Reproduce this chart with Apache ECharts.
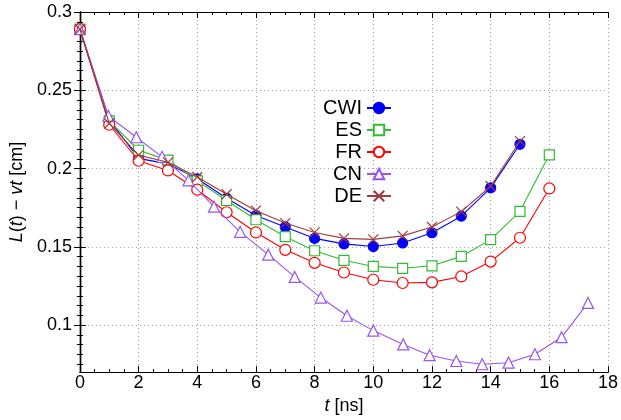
<!DOCTYPE html>
<html><head><meta charset="utf-8">
<script src="https://cdn.jsdelivr.net/npm/echarts@6/dist/echarts.min.js"></script>
<style>html,body{margin:0;padding:0;background:#fff}#c{width:621px;height:420px}</style>
</head><body><div id="c"></div>
<script>
// ---- data ----
const cwiT = [0,1,2,3,4,5,6,7,8,9,10,11,12,13,14,15];
const cwiV = [0.289,0.231,0.2065,0.203,0.1935,0.181,0.170,0.1627,0.1554,0.1519,0.1502,0.1525,0.159,0.1696,0.1877,0.2155];
const esT = [0,1,2,3,4,5,6,7,8,9,10,11,12,13,14,15,16];
const esV = [0.289,0.2304,0.2117,0.2054,0.1922,0.1796,0.1673,0.1565,0.1475,0.1414,0.1375,0.1363,0.1379,0.1439,0.1546,0.1727,0.2088];
const frT = [0,1,2,3,4,5,6,7,8,9,10,11,12,13,14,15,16];
const frV = [0.289,0.228,0.205,0.1988,0.1865,0.1721,0.1592,0.1481,0.1398,0.1336,0.1290,0.1269,0.1273,0.1311,0.1406,0.1558,0.1873];
const cnT = [0,0.97,1.92,2.8,3.7,4.57,5.46,6.42,7.32,8.21,9.1,10.0,11.02,11.92,12.83,13.71,14.61,15.51,16.42,17.32];
const cnV = [0.289,0.2336,0.220,0.2075,0.1925,0.1757,0.1596,0.145,0.1308,0.1176,0.106,0.0965,0.0877,0.0808,0.0771,0.075,0.076,0.0814,0.0923,0.1142];
const deT = [0,1,2,3,4,5,6,7,8,9,10,11,12,13,14,15];
const deV = [0.289,0.2288,0.2086,0.204,0.1946,0.1836,0.1731,0.1652,0.1592,0.1554,0.1548,0.157,0.1627,0.1725,0.1887,0.2175];
const seriesNames = ['CWI','ES','FR','CN','DE'];
const xTicks = [0,2,4,6,8,10,12,14,16,18];
const yTicks = [0.1,0.15,0.2,0.25,0.3];
const yLabels = ['0.1','0.15','0.2','0.25','0.3'];

// ---- chart ----
const FONT = 'Liberation Sans, Arial, Helvetica, sans-serif';
const zip = (a,b) => a.map((x,i)=>[x,b[i]]);
const yMinor = [];
for (let i = 0; i < yTicks.length; i++) {
  for (let k = 1; k < 8; k++) {
    const v = +(yTicks[i] - k*0.00625).toFixed(6);
    if (v > 0.07 && (i === 0 || v > yTicks[i-1])) yMinor.push(v);
  }
}
const xMinor = [];
for (let i = 0; i < xTicks.length - 1; i++) {
  for (let k = 1; k < 4; k++) xMinor.push(xTicks[i] + k*0.5);
}
const chart = echarts.init(document.getElementById('c'), null, {renderer:'canvas'});
const axisLineStyle = {color:'#000', width:1.2};
const grid = {left:79, right:11, top:12, bottom:41};
const cross = 'path://M0,0L10,10M10,0L0,10';
function mk(name, t, v, color, symbol, size, filled, z) {
  return {
    name, type:'line', xAxisIndex:0, yAxisIndex:0, data: zip(t,v),
    symbol, symbolSize:size, z,
    lineStyle:{color, width:1.1},
    itemStyle:{color: filled ? color : (symbol===cross ? 'rgba(0,0,0,0)' : '#fff'), borderColor:color, borderWidth:1.2},
    emphasis:{disabled:true}
  };
}
const series = [
  mk('CWI', cwiT, cwiV, '#0000ff', 'circle', 10, true, 2),
  mk('ES', esT, esV, '#33bb33', 'rect', 10, false, 3),
  mk('FR', frT, frV, '#ff0000', 'circle', 11, false, 4),
  mk('CN', cnT, cnV, '#9955ee', 'triangle', 11, false, 5),
  mk('DE', deT, deV, '#a03c3c', cross, 10, false, 6)
];
const baseX = {type:'value', min:0, max:18, interval:2};
const baseY = {type:'value', min:0.07, max:0.3};
function tickAxis(base, pos, vals, len) {
  return Object.assign({}, base, {position:pos,
    axisLine:{show:true, lineStyle:axisLineStyle},
    axisTick:{show:true, inside:true, length:len, lineStyle:{color:'#000', width:1}, customValues: vals},
    axisLabel:{show:false}, splitLine:{show:false}
  });
}
chart.setOption({
  animation:false,
  backgroundColor:'#fff',
  grid,
  legend:{
    orient:'vertical', left:312, top:93, align:'right',
    itemWidth:24, itemHeight:13, itemGap:2,
    data: seriesNames,
    textStyle:{fontFamily:FONT, fontSize:20, lineHeight:20, color:'#000', width:45, align:'right'}
  },
  xAxis:[
    Object.assign({}, baseX, {position:'bottom',
      name:'{i|t} [ns]', nameLocation:'middle', nameGap:17,
      nameTextStyle:{fontFamily:FONT, fontSize:18, color:'#000', rich:{i:{fontFamily:FONT, fontSize:18, fontStyle:'italic', color:'#000'}}},
      axisLine:{show:true, lineStyle:axisLineStyle},
      axisTick:{show:true, inside:true, length:6, lineStyle:{color:'#000', width:1}, customValues: xTicks},
      axisLabel:{fontFamily:FONT, fontSize:18, color:'#000', margin:2, customValues: xTicks},
      splitLine:{show:true, lineStyle:{color:'#a0a0a0', type:[1,3], width:1}}
    }),
    tickAxis(baseX, 'top', xTicks, 6),
    tickAxis(baseX, 'bottom', xMinor, 3),
    tickAxis(baseX, 'top', xMinor, 3)
  ],
  yAxis:[
    Object.assign({}, baseY, {position:'left',
      name:'{i|L}({i|t}) − {i|vt} [cm]', nameLocation:'middle', nameGap:49,
      nameTextStyle:{fontFamily:FONT, fontSize:18, color:'#000', rich:{i:{fontFamily:FONT, fontSize:18, fontStyle:'italic', color:'#000'}}},
      axisLine:{show:true, lineStyle:axisLineStyle},
      axisTick:{show:true, inside:true, length:6, lineStyle:{color:'#000', width:1}, customValues: yTicks},
      axisLabel:{fontFamily:FONT, fontSize:18, color:'#000', margin:8, customValues: yTicks,
        formatter: v => { const i = yTicks.findIndex(y => Math.abs(y-v) < 1e-9); return i >= 0 ? yLabels[i] : ''; }},
      splitLine:{show:true, lineStyle:{color:'#a0a0a0', type:[1,3], width:1}}
    }),
    tickAxis(baseY, 'right', yTicks, 6),
    tickAxis(baseY, 'left', yMinor, 3),
    tickAxis(baseY, 'right', yMinor, 3)
  ],
  series
});
</script></body></html>
